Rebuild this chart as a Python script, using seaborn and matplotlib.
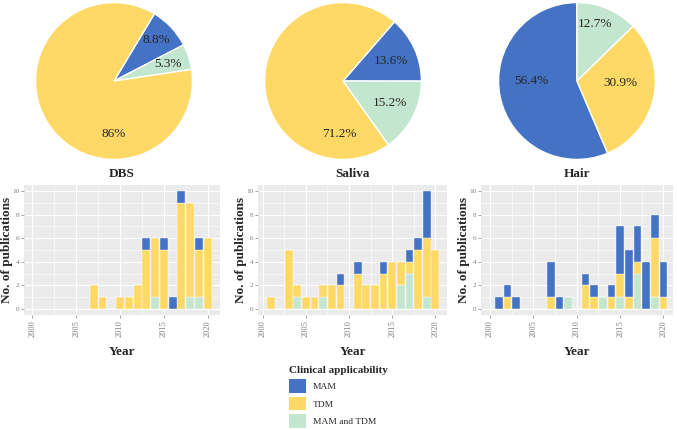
import numpy as np
import pandas as pd
import seaborn as sns
import matplotlib.pyplot as plt
from matplotlib.patches import Patch
from matplotlib.ticker import MultipleLocator

groups = ["MAM", "TDM", "MAM and TDM"]
colors = {"MAM": "#4472C4", "TDM": "#FFD966", "MAM and TDM": "#C3E6CF"}

# pie counts (order: MAM, MAM and TDM, TDM)
pie_order = ["MAM", "MAM and TDM", "TDM"]
dbs_pie = [5, 3, 49]
saliva_pie = [9, 10, 47]
hair_pie = [31, 7, 17]

# publications per year
dbs_years = [2007, 2008, 2010, 2011, 2012, 2013, 2014, 2015, 2016, 2017, 2018, 2019, 2020]
dbs_mam = [0, 0, 0, 0, 0, 1, 0, 1, 1, 1, 0, 1, 0]
dbs_tdm = [2, 1, 1, 1, 2, 5, 5, 5, 0, 9, 8, 4, 6]
dbs_both = [0, 0, 0, 0, 0, 0, 1, 0, 0, 0, 1, 1, 0]

saliva_years = [2001, 2003, 2004, 2005, 2006, 2007, 2008, 2009, 2011, 2012, 2013, 2014,
                2015, 2016, 2017, 2018, 2019, 2020]
saliva_mam = [0, 0, 0, 0, 0, 0, 0, 1, 1, 0, 0, 1, 0, 0, 1, 1, 4, 0]
saliva_tdm = [1, 5, 1, 1, 1, 1, 2, 2, 3, 2, 2, 3, 4, 2, 1, 5, 5, 5]
saliva_both = [0, 0, 1, 0, 0, 1, 0, 0, 0, 0, 0, 0, 0, 2, 3, 0, 1, 0]

hair_years = [2001, 2002, 2003, 2007, 2008, 2009, 2011, 2012, 2013, 2014, 2015, 2016,
              2017, 2018, 2019, 2020]
hair_mam = [1, 1, 1, 3, 1, 0, 1, 1, 0, 1, 4, 4, 3, 4, 2, 3]
hair_tdm = [0, 1, 0, 1, 0, 0, 2, 1, 0, 1, 2, 1, 1, 0, 5, 1]
hair_both = [0, 0, 0, 0, 0, 1, 0, 0, 1, 0, 1, 0, 3, 0, 1, 0]

sns.set_style("darkgrid", {"axes.facecolor": "#EBEBEB", "grid.color": "white"})
plt.rcParams['font.family'] = ['Liberation Serif', 'DejaVu Serif']

W, H = 677, 430
fig = plt.figure(figsize=(W / 100, H / 100), dpi=100)


def box(x, y, w, h):
    return [x / W, 1 - (y + h) / H, w / W, h / H]


def long_df(years, mam, tdm, both):
    rows = []
    for i, yr in enumerate(years):
        for g, vals in zip(groups, [mam, tdm, both]):
            if vals[i] > 0:
                rows.append({"Year": yr, "Group": g, "n": vals[i]})
    return pd.DataFrame(rows)


def pct(v, total):
    return f"{round(100 * v / total, 1):g}%"


# Step 1: pies  (label angle clockwise from top, label radius)
pies = [(dbs_pie, 59, [34, 1, 160, 160], [(46, 0.75), (72, 0.72), (180, 0.68)]),
        (saliva_pie, 49, [263, 1, 160, 160], [(67, 0.66), (115, 0.66), (184, 0.68)]),
        (hair_pie, -67, [497, 1, 160, 160], [(270, 0.58), (18, 0.76), (92, 0.56)])]
for vals, start, b, labpos in pies:
    ax = fig.add_axes(box(*b))
    ax.pie(vals, colors=[colors[g] for g in pie_order], startangle=start,
           counterclock=False, wedgeprops=dict(edgecolor="white", linewidth=1))
    for v, (ang, r) in zip(vals, labpos):
        a = np.deg2rad(ang)
        ax.text(r * np.sin(a), r * np.cos(a), pct(v, sum(vals)), fontsize=9.5,
                ha="center", va="center")
    ax.set_xlim(-1.02, 1.02)
    ax.set_ylim(-1.02, 1.02)

# Step 2: stacked bars
bars = [("DBS", long_df(dbs_years, dbs_mam, dbs_tdm, dbs_both), [24, 185, 196, 130], (1999.05, 2021.4)),
        ("Saliva", long_df(saliva_years, saliva_mam, saliva_tdm, saliva_both), [258, 185, 189, 130], (1999.45, 2021.35)),
        ("Hair", long_df(hair_years, hair_mam, hair_tdm, hair_both), [481, 185, 192, 130], (1998.95, 2021.1))]
for title, df, b, xl in bars:
    ax = fig.add_axes(box(*b))
    sns.histplot(data=df, x="Year", hue="Group", weights="n", multiple="stack",
                 discrete=True, shrink=0.9, hue_order=groups, palette=colors,
                 edgecolor="white", linewidth=0.3, alpha=1, legend=False, ax=ax)
    ax.set_xlim(*xl)
    ax.set_ylim(-0.5, 10.5)
    ax.set_xticks([2000, 2005, 2010, 2015, 2020])
    ax.set_yticks([0, 2, 4, 6, 8, 10])
    ax.xaxis.set_minor_locator(MultipleLocator(2.5))
    ax.yaxis.set_minor_locator(MultipleLocator(1))
    ax.grid(which="major", color="white", linewidth=0.8)
    ax.grid(which="minor", color="white", linewidth=0.4)
    ax.set_axisbelow(True)
    ax.tick_params(axis="both", which="major", labelsize=5.2, labelcolor="#808080",
                   color="#808080", length=2, width=0.5, pad=1.5, bottom=True, left=True)
    ax.tick_params(axis="x", labelrotation=90, labelsize=6)
    ax.tick_params(which="minor", length=0)
    for s in ax.spines.values():
        s.set_visible(False)
    ax.set_title(title, fontsize=9.5, fontweight="bold", pad=6)
    ax.set_xlabel("Year", fontsize=9.5, fontweight="bold")
    ax.xaxis.set_label_coords(0.5, -(346 - 315) / 130)
    ax.set_ylabel("No. of publications", fontsize=9.5, fontweight="bold")
    ax.yaxis.set_label_coords(-11 / b[2], 0.5)

# Step 3: legend
handles = [Patch(facecolor=colors[g], edgecolor="none") for g in groups]
fig.legend(handles, groups, loc="upper left", bbox_to_anchor=(289 / W, 1 - 366 / H),
           frameon=False, title="Clinical applicability", alignment="left",
           fontsize=6.8, title_fontproperties={"weight": "bold", "size": 8},
           handlelength=1.8, handleheight=1.8, handletextpad=0.7,
           labelspacing=0.45, borderpad=0, borderaxespad=0)

fig.savefig("out.png", dpi=100)
